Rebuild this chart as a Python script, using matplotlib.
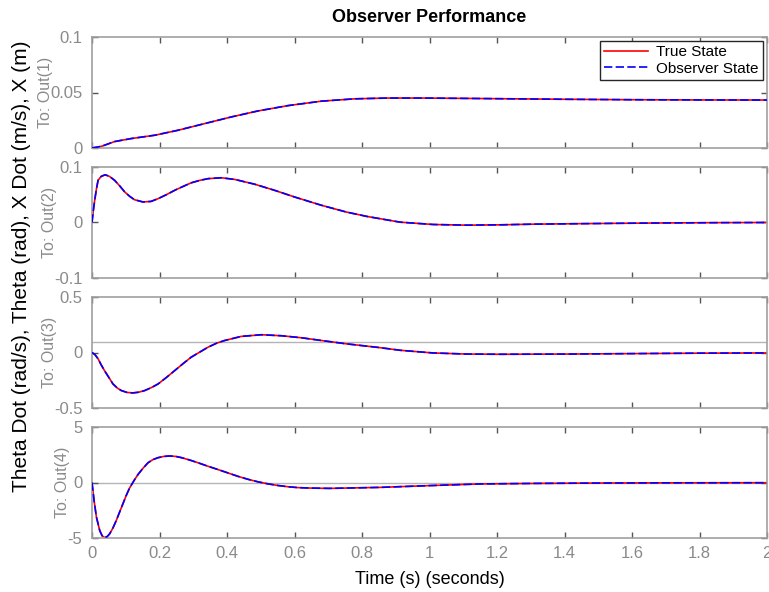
import matplotlib
matplotlib.use("Agg")
import matplotlib.pyplot as plt

plt.rcParams['font.family'] = ['Liberation Sans', 'DejaVu Sans']

# X (m)
t_x = [0, 0.028, 0.067, 0.116, 0.186, 0.255, 0.334, 0.413, 0.492, 0.581,
       0.68, 0.778, 0.877, 0.976, 1.1, 1.25, 1.4, 1.6, 1.8, 2.0]
x_pos = [0, 0.0015, 0.0058, 0.0085, 0.0115, 0.016, 0.022, 0.028, 0.0334, 0.0382,
         0.0422, 0.0443, 0.0450, 0.0450, 0.0447, 0.0443, 0.0439, 0.0435, 0.0433, 0.0432]

# X Dot (m/s)
t_xd = [0, 0.004, 0.008, 0.013, 0.018, 0.027, 0.039, 0.052, 0.067, 0.082,
        0.097, 0.112, 0.126, 0.151, 0.175, 0.196, 0.22, 0.245, 0.27, 0.294,
        0.32, 0.344, 0.383, 0.423, 0.482, 0.541, 0.6, 0.68, 0.754, 0.814,
        0.913, 1.011, 1.11, 1.209, 1.307, 1.4, 1.55, 1.7, 1.85, 2.0]
x_dot = [0, 0.022, 0.040, 0.060, 0.076, 0.083, 0.086, 0.083, 0.076, 0.066,
         0.055, 0.047, 0.041, 0.037, 0.038, 0.043, 0.050, 0.058, 0.065, 0.0715,
         0.076, 0.079, 0.0806, 0.0776, 0.069, 0.058, 0.046, 0.031, 0.0188, 0.011,
         0.0006, -0.0036, -0.0048, -0.0042, -0.003, -0.0024, -0.0015, -0.0008, -0.0003, 0.0]

# Theta (rad)
t_th = [0, 0.009, 0.018, 0.027, 0.037, 0.05, 0.062, 0.075, 0.087, 0.104,
        0.121, 0.138, 0.156, 0.176, 0.196, 0.22, 0.245, 0.27, 0.294, 0.32,
        0.344, 0.37, 0.393, 0.442, 0.502, 0.561, 0.62, 0.68, 0.754, 0.85,
        0.913, 1.01, 1.11, 1.21, 1.41, 1.6, 1.8, 2.0]
theta = [0, -0.02, -0.057, -0.11, -0.163, -0.225, -0.283, -0.32, -0.343, -0.36,
         -0.364, -0.358, -0.343, -0.316, -0.283, -0.226, -0.163, -0.10, -0.042, 0.005,
         0.048, 0.085, 0.108, 0.145, 0.160, 0.151, 0.133, 0.108, 0.078, 0.045,
         0.02, -0.004, -0.014, -0.016, -0.014, -0.01, -0.006, -0.004]

# Theta Dot (rad/s)
t_thd = [0, 0.006, 0.013, 0.023, 0.03, 0.037, 0.044, 0.052, 0.062, 0.072,
         0.082, 0.092, 0.101, 0.111, 0.124, 0.136, 0.151, 0.166, 0.181, 0.196,
         0.213, 0.23, 0.248, 0.265, 0.29, 0.314, 0.343, 0.373, 0.403, 0.433,
         0.462, 0.492, 0.521, 0.551, 0.58, 0.61, 0.645, 0.68, 0.705, 0.754,
         0.853, 1.0, 1.15, 1.32, 1.5, 1.7, 2.0]
theta_dot = [0, -1.59, -3.1, -4.34, -4.8, -4.95, -4.9, -4.64, -4.1, -3.42,
             -2.65, -1.89, -1.2, -0.52, 0.15, 0.71, 1.28, 1.78, 2.07, 2.24,
             2.35, 2.39, 2.35, 2.24, 2.02, 1.78, 1.47, 1.17, 0.86, 0.55,
             0.29, 0.06, -0.12, -0.27, -0.38, -0.46, -0.5, -0.52, -0.53, -0.5,
             -0.44, -0.28, -0.13, -0.08, -0.05, -0.03, -0.02]

series = [(t_x, x_pos), (t_xd, x_dot), (t_th, theta), (t_thd, theta_dot)]
ylims = [(0, 0.1), (-0.1, 0.1), (-0.5, 0.5), (-5, 5)]
yticks = [[0, 0.05, 0.1], [-0.1, 0, 0.1], [-0.5, 0, 0.5], [-5, 0, 5]]
ytick_labels = [['0', '0.05', '0.1'], ['-0.1', '0', '0.1'], ['-0.5', '0', '0.5'], ['-5', '0', '5']]
out_names = ['To: Out(1)', 'To: Out(2)', 'To: Out(3)', 'To: Out(4)']
steady = [None, None, 0.093, 0.0]
xticks = [0, 0.2, 0.4, 0.6, 0.8, 1, 1.2, 1.4, 1.6, 1.8, 2]
xtick_labels = ['0', '0.2', '0.4', '0.6', '0.8', '1', '1.2', '1.4', '1.6', '1.8', '2']

W, H = 769, 592
fig = plt.figure(figsize=(W / 100, H / 100), dpi=100)

gray = '#8a8a8a'
tops = [37, 167, 297, 427]
ax_h = 111
left, right = 92, 767

axes = []
for i, (t, v) in enumerate(series):
    ax = fig.add_axes([left / W, 1 - (tops[i] + ax_h) / H, (right - left) / W, ax_h / H])
    if steady[i] is not None:
        ax.axhline(steady[i], color='#b4b4b4', lw=1.0, zorder=1)
    ax.plot(t, v, color='#ff0000', lw=1.2, zorder=2, label='True State')
    ax.plot(t, v, color='#0000ff', lw=1.2, ls='--', dashes=(5, 2), zorder=3,
            label='Observer State')
    ax.set_xlim(0, 2)
    ax.set_ylim(*ylims[i])
    ax.set_yticks(yticks[i])
    ax.set_yticklabels(ytick_labels[i])
    ax.set_xticks(xticks)
    if i == 3:
        ax.set_xticklabels(xtick_labels)
    else:
        ax.set_xticklabels([])
    ax.tick_params(direction='in', length=4.5, width=1, color='#555555',
                   labelcolor=gray, labelsize=12, top=True, right=True)
    ax.tick_params(axis='y', pad=7)
    ax.tick_params(axis='x', pad=6)
    for sp in ax.spines.values():
        sp.set_color('#a0a0a0')
        sp.set_linewidth(1.2)
    ax.set_ylabel(out_names[i], color=gray, fontsize=11.5, labelpad=-2)
    axes.append(ax)

leg = axes[0].legend(loc='upper right', fontsize=11, frameon=True, fancybox=False,
                     edgecolor='#262626', framealpha=1, handlelength=2.9,
                     borderaxespad=0.25, borderpad=0.3, labelspacing=0.15,
                     handletextpad=0.5)
leg.get_frame().set_linewidth(1.0)

axes[0].set_title('Observer Performance', fontsize=13, fontweight='bold', pad=11)
axes[3].set_xlabel('Time (s) (seconds)', fontsize=13, labelpad=7)
fig.text(22 / W, 1 - 266 / H, 'Theta Dot (rad/s), Theta (rad), X Dot (m/s), X (m)',
         rotation=90, fontsize=15, ha='center', va='center')

fig.savefig('out.png', dpi=100)
